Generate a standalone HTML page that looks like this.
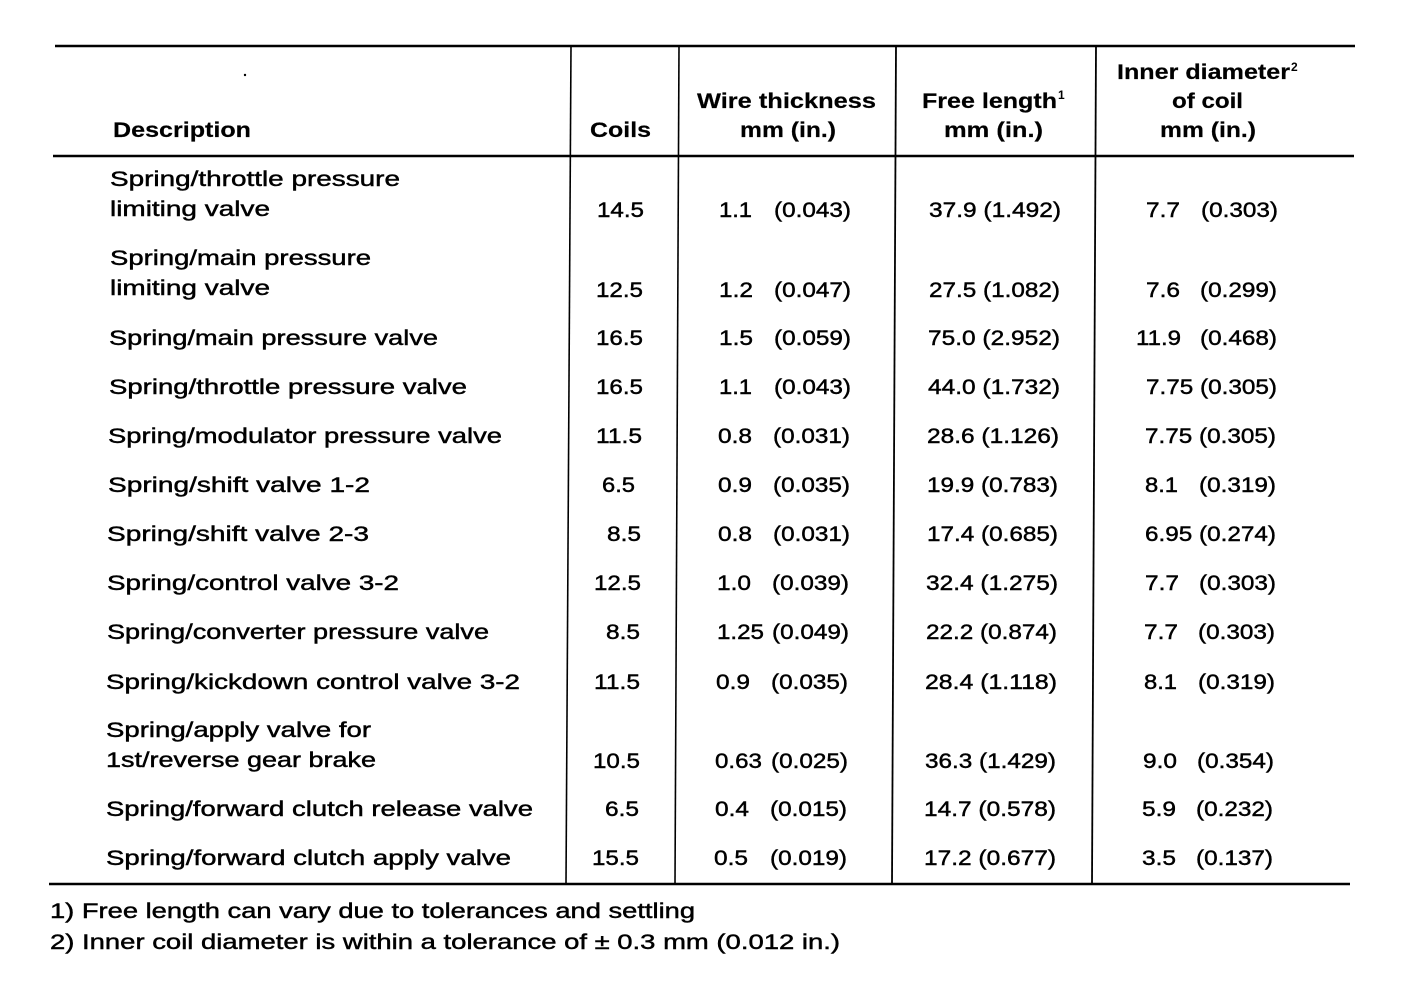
<!DOCTYPE html>
<html><head><meta charset="utf-8"><style>
html,body{margin:0;padding:0;background:#fff;}
svg{display:block;}
text{font-family:"Liberation Sans",Arial,sans-serif;fill:#000;}
.b{font-size:21.5px;stroke:#000;stroke-width:0.45px;}
.h{font-size:21px;font-weight:bold;stroke:#000;stroke-width:0.2px;}
.s{font-size:12px;font-weight:bold;}
</style></head><body>
<svg width="1408" height="998" viewBox="0 0 1408 998" xmlns="http://www.w3.org/2000/svg">
<rect width="1408" height="998" fill="#fff"/>
<!-- rules -->
<line x1="55" y1="46" x2="1355" y2="46" stroke="#000" stroke-width="2.6"/>
<line x1="53" y1="156" x2="1354" y2="156" stroke="#000" stroke-width="2.4"/>
<line x1="49" y1="884" x2="1350" y2="884" stroke="#000" stroke-width="2.6"/>
<line x1="571" y1="46" x2="566" y2="884" stroke="#000" stroke-width="1.6"/>
<line x1="679" y1="46" x2="675" y2="884" stroke="#000" stroke-width="1.6"/>
<line x1="896" y1="46" x2="892" y2="884" stroke="#000" stroke-width="1.8"/>
<line x1="1096" y1="46" x2="1092" y2="884" stroke="#000" stroke-width="1.8"/>
<circle cx="245" cy="75" r="1.2" fill="#000"/>

<!-- header -->
<text class="h" x="113" y="137" textLength="138" lengthAdjust="spacingAndGlyphs">Description</text>
<text class="h" x="590" y="137" textLength="61" lengthAdjust="spacingAndGlyphs">Coils</text>
<text class="h" x="697" y="108" textLength="179" lengthAdjust="spacingAndGlyphs">Wire thickness</text>
<text class="h" x="740" y="137" textLength="96" lengthAdjust="spacingAndGlyphs">mm (in.)</text>
<text class="h" x="922" y="108" textLength="135" lengthAdjust="spacingAndGlyphs">Free length</text>
<text class="s" x="1058" y="99">1</text>
<text class="h" x="944" y="137" textLength="99" lengthAdjust="spacingAndGlyphs">mm (in.)</text>
<text class="h" x="1117" y="79" textLength="173" lengthAdjust="spacingAndGlyphs">Inner diameter</text>
<text class="s" x="1291" y="71">2</text>
<text class="h" x="1172" y="108" textLength="71" lengthAdjust="spacingAndGlyphs">of coil</text>
<text class="h" x="1160" y="137" textLength="96" lengthAdjust="spacingAndGlyphs">mm (in.)</text>

<!-- descriptions -->
<text class="b" x="110" y="186" textLength="290" lengthAdjust="spacingAndGlyphs">Spring/throttle pressure</text>
<text class="b" x="110" y="216" textLength="160" lengthAdjust="spacingAndGlyphs">limiting valve</text>
<text class="b" x="110" y="265" textLength="261" lengthAdjust="spacingAndGlyphs">Spring/main pressure</text>
<text class="b" x="110" y="295" textLength="160" lengthAdjust="spacingAndGlyphs">limiting valve</text>
<text class="b" x="109" y="345" textLength="329" lengthAdjust="spacingAndGlyphs">Spring/main pressure valve</text>
<text class="b" x="109" y="394" textLength="358" lengthAdjust="spacingAndGlyphs">Spring/throttle pressure valve</text>
<text class="b" x="108" y="443" textLength="394" lengthAdjust="spacingAndGlyphs">Spring/modulator pressure valve</text>
<text class="b" x="108" y="492" textLength="262" lengthAdjust="spacingAndGlyphs">Spring/shift valve 1-2</text>
<text class="b" x="107" y="541" textLength="262" lengthAdjust="spacingAndGlyphs">Spring/shift valve 2-3</text>
<text class="b" x="107" y="590" textLength="292" lengthAdjust="spacingAndGlyphs">Spring/control valve 3-2</text>
<text class="b" x="107" y="639" textLength="382" lengthAdjust="spacingAndGlyphs">Spring/converter pressure valve</text>
<text class="b" x="106" y="689" textLength="414" lengthAdjust="spacingAndGlyphs">Spring/kickdown control valve 3-2</text>
<text class="b" x="106" y="737" textLength="265" lengthAdjust="spacingAndGlyphs">Spring/apply valve for</text>
<text class="b" x="106" y="767" textLength="270" lengthAdjust="spacingAndGlyphs">1st/reverse gear brake</text>
<text class="b" x="106" y="816" textLength="427" lengthAdjust="spacingAndGlyphs">Spring/forward clutch release valve</text>
<text class="b" x="106" y="865" textLength="405" lengthAdjust="spacingAndGlyphs">Spring/forward clutch apply valve</text>

<!-- coils -->
<g text-anchor="end">
<text class="b" x="644" y="217" textLength="47" lengthAdjust="spacingAndGlyphs">14.5</text>
<text class="b" x="643" y="297" textLength="47" lengthAdjust="spacingAndGlyphs">12.5</text>
<text class="b" x="643" y="345" textLength="47" lengthAdjust="spacingAndGlyphs">16.5</text>
<text class="b" x="643" y="394" textLength="47" lengthAdjust="spacingAndGlyphs">16.5</text>
<text class="b" x="642" y="443" textLength="46" lengthAdjust="spacingAndGlyphs">11.5</text>
<text class="b" x="635" y="492" textLength="33" lengthAdjust="spacingAndGlyphs">6.5</text>
<text class="b" x="641" y="541" textLength="34" lengthAdjust="spacingAndGlyphs">8.5</text>
<text class="b" x="641" y="590" textLength="47" lengthAdjust="spacingAndGlyphs">12.5</text>
<text class="b" x="640" y="639" textLength="34" lengthAdjust="spacingAndGlyphs">8.5</text>
<text class="b" x="640" y="689" textLength="46" lengthAdjust="spacingAndGlyphs">11.5</text>
<text class="b" x="640" y="768" textLength="47" lengthAdjust="spacingAndGlyphs">10.5</text>
<text class="b" x="639" y="816" textLength="34" lengthAdjust="spacingAndGlyphs">6.5</text>
<text class="b" x="639" y="865" textLength="47" lengthAdjust="spacingAndGlyphs">15.5</text>
</g>

<!-- wire thickness -->
<text class="b" x="719" y="217" textLength="33" lengthAdjust="spacingAndGlyphs">1.1</text>
<text class="b" x="774" y="217" textLength="77" lengthAdjust="spacingAndGlyphs">(0.043)</text>
<text class="b" x="719" y="297" textLength="34" lengthAdjust="spacingAndGlyphs">1.2</text>
<text class="b" x="774" y="297" textLength="77" lengthAdjust="spacingAndGlyphs">(0.047)</text>
<text class="b" x="719" y="345" textLength="34" lengthAdjust="spacingAndGlyphs">1.5</text>
<text class="b" x="774" y="345" textLength="77" lengthAdjust="spacingAndGlyphs">(0.059)</text>
<text class="b" x="719" y="394" textLength="33" lengthAdjust="spacingAndGlyphs">1.1</text>
<text class="b" x="774" y="394" textLength="77" lengthAdjust="spacingAndGlyphs">(0.043)</text>
<text class="b" x="718" y="443" textLength="34" lengthAdjust="spacingAndGlyphs">0.8</text>
<text class="b" x="773" y="443" textLength="77" lengthAdjust="spacingAndGlyphs">(0.031)</text>
<text class="b" x="718" y="492" textLength="34" lengthAdjust="spacingAndGlyphs">0.9</text>
<text class="b" x="773" y="492" textLength="77" lengthAdjust="spacingAndGlyphs">(0.035)</text>
<text class="b" x="718" y="541" textLength="34" lengthAdjust="spacingAndGlyphs">0.8</text>
<text class="b" x="773" y="541" textLength="77" lengthAdjust="spacingAndGlyphs">(0.031)</text>
<text class="b" x="717" y="590" textLength="34" lengthAdjust="spacingAndGlyphs">1.0</text>
<text class="b" x="772" y="590" textLength="77" lengthAdjust="spacingAndGlyphs">(0.039)</text>
<text class="b" x="717" y="639" textLength="47" lengthAdjust="spacingAndGlyphs">1.25</text>
<text class="b" x="772" y="639" textLength="77" lengthAdjust="spacingAndGlyphs">(0.049)</text>
<text class="b" x="716" y="689" textLength="34" lengthAdjust="spacingAndGlyphs">0.9</text>
<text class="b" x="771" y="689" textLength="77" lengthAdjust="spacingAndGlyphs">(0.035)</text>
<text class="b" x="715" y="768" textLength="47" lengthAdjust="spacingAndGlyphs">0.63</text>
<text class="b" x="771" y="768" textLength="77" lengthAdjust="spacingAndGlyphs">(0.025)</text>
<text class="b" x="715" y="816" textLength="34" lengthAdjust="spacingAndGlyphs">0.4</text>
<text class="b" x="770" y="816" textLength="77" lengthAdjust="spacingAndGlyphs">(0.015)</text>
<text class="b" x="714" y="865" textLength="34" lengthAdjust="spacingAndGlyphs">0.5</text>
<text class="b" x="770" y="865" textLength="77" lengthAdjust="spacingAndGlyphs">(0.019)</text>

<!-- free length -->
<text class="b" x="929" y="217" textLength="132" lengthAdjust="spacingAndGlyphs">37.9 (1.492)</text>
<text class="b" x="929" y="297" textLength="131" lengthAdjust="spacingAndGlyphs">27.5 (1.082)</text>
<text class="b" x="928" y="345" textLength="132" lengthAdjust="spacingAndGlyphs">75.0 (2.952)</text>
<text class="b" x="928" y="394" textLength="132" lengthAdjust="spacingAndGlyphs">44.0 (1.732)</text>
<text class="b" x="927" y="443" textLength="132" lengthAdjust="spacingAndGlyphs">28.6 (1.126)</text>
<text class="b" x="927" y="492" textLength="131" lengthAdjust="spacingAndGlyphs">19.9 (0.783)</text>
<text class="b" x="927" y="541" textLength="131" lengthAdjust="spacingAndGlyphs">17.4 (0.685)</text>
<text class="b" x="926" y="590" textLength="132" lengthAdjust="spacingAndGlyphs">32.4 (1.275)</text>
<text class="b" x="926" y="639" textLength="131" lengthAdjust="spacingAndGlyphs">22.2 (0.874)</text>
<text class="b" x="925" y="689" textLength="132" lengthAdjust="spacingAndGlyphs">28.4 (1.118)</text>
<text class="b" x="925" y="768" textLength="131" lengthAdjust="spacingAndGlyphs">36.3 (1.429)</text>
<text class="b" x="924" y="816" textLength="132" lengthAdjust="spacingAndGlyphs">14.7 (0.578)</text>
<text class="b" x="924" y="865" textLength="132" lengthAdjust="spacingAndGlyphs">17.2 (0.677)</text>

<!-- inner diameter -->
<text class="b" x="1146" y="217" textLength="34" lengthAdjust="spacingAndGlyphs">7.7</text>
<text class="b" x="1201" y="217" textLength="77" lengthAdjust="spacingAndGlyphs">(0.303)</text>
<text class="b" x="1146" y="297" textLength="34" lengthAdjust="spacingAndGlyphs">7.6</text>
<text class="b" x="1200" y="297" textLength="77" lengthAdjust="spacingAndGlyphs">(0.299)</text>
<text class="b" x="1136" y="345" textLength="45" lengthAdjust="spacingAndGlyphs">11.9</text>
<text class="b" x="1200" y="345" textLength="77" lengthAdjust="spacingAndGlyphs">(0.468)</text>
<text class="b" x="1146" y="394" textLength="131" lengthAdjust="spacingAndGlyphs">7.75 (0.305)</text>
<text class="b" x="1145" y="443" textLength="131" lengthAdjust="spacingAndGlyphs">7.75 (0.305)</text>
<text class="b" x="1145" y="492" textLength="33" lengthAdjust="spacingAndGlyphs">8.1</text>
<text class="b" x="1199" y="492" textLength="77" lengthAdjust="spacingAndGlyphs">(0.319)</text>
<text class="b" x="1145" y="541" textLength="131" lengthAdjust="spacingAndGlyphs">6.95 (0.274)</text>
<text class="b" x="1145" y="590" textLength="34" lengthAdjust="spacingAndGlyphs">7.7</text>
<text class="b" x="1199" y="590" textLength="77" lengthAdjust="spacingAndGlyphs">(0.303)</text>
<text class="b" x="1144" y="639" textLength="34" lengthAdjust="spacingAndGlyphs">7.7</text>
<text class="b" x="1198" y="639" textLength="77" lengthAdjust="spacingAndGlyphs">(0.303)</text>
<text class="b" x="1144" y="689" textLength="33" lengthAdjust="spacingAndGlyphs">8.1</text>
<text class="b" x="1198" y="689" textLength="77" lengthAdjust="spacingAndGlyphs">(0.319)</text>
<text class="b" x="1143" y="768" textLength="34" lengthAdjust="spacingAndGlyphs">9.0</text>
<text class="b" x="1197" y="768" textLength="77" lengthAdjust="spacingAndGlyphs">(0.354)</text>
<text class="b" x="1142" y="816" textLength="34" lengthAdjust="spacingAndGlyphs">5.9</text>
<text class="b" x="1196" y="816" textLength="77" lengthAdjust="spacingAndGlyphs">(0.232)</text>
<text class="b" x="1142" y="865" textLength="34" lengthAdjust="spacingAndGlyphs">3.5</text>
<text class="b" x="1196" y="865" textLength="77" lengthAdjust="spacingAndGlyphs">(0.137)</text>

<!-- footnotes -->
<text class="b" x="50" y="918" textLength="645" lengthAdjust="spacingAndGlyphs">1) Free length can vary due to tolerances and settling</text>
<text class="b" x="50" y="949" textLength="790" lengthAdjust="spacingAndGlyphs">2) Inner coil diameter is within a tolerance of ± 0.3 mm (0.012 in.)</text>
</svg>
</body></html>
